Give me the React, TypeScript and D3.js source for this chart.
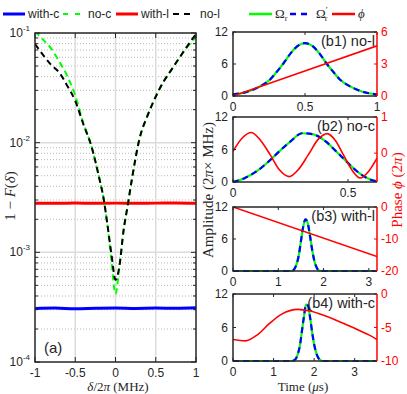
import React from "react";
import * as d3 from "d3";

const W = 407;
const H = 394;
const SANS = "'Liberation Sans', Arial, sans-serif";
const SERIF = "'Liberation Serif', 'Times New Roman', serif";
const INK = "#262626";

// ---- panel (a): infidelity vs detuning ----
const detuning = [-1, -0.9, -0.8, -0.7, -0.6, -0.5, -0.4, -0.3, -0.2, -0.15, -0.1, -0.05, 0, 0.05, 0.1, 0.15, 0.2, 0.3, 0.4, 0.5, 0.6, 0.7, 0.8, 0.9, 1];
const noL = [0.0794, 0.0631, 0.0513, 0.0437, 0.0331, 0.024, 0.0148, 0.00933, 0.00468, 0.00316, 0.00178, 0.000955, 0.000562, 0.000759, 0.00158, 0.00263, 0.00447, 0.011, 0.0178, 0.0263, 0.0363, 0.0468, 0.0603, 0.0776, 0.0977];
const noC = [0.104, 0.0871, 0.0724, 0.055, 0.0407, 0.0269, 0.0151, 0.00933, 0.00468, 0.00316, 0.00178, 0.000832, 0.000417, 0.000759, 0.00158, 0.00263, 0.00447, 0.011, 0.0178, 0.0263, 0.0363, 0.0468, 0.0603, 0.0759, 0.0912];
const flatDetuning = [-1, -0.75, -0.5, -0.25, 0, 0.25, 0.5, 0.75, 1];
const withL = [0.00281, 0.0028, 0.00282, 0.0028, 0.00281, 0.0028, 0.00281, 0.00282, 0.0028];
const withC = [0.000308, 0.00031, 0.000306, 0.000309, 0.000311, 0.000308, 0.00031, 0.000309, 0.000312];
const aXTicks = [-1, -0.5, 0, 0.5, 1];
const aYTicks = [1e-4, 1e-3, 1e-2, 1e-1];

// ---- panels (b1)-(b4): pulse amplitude and phase vs time ----
const b1Time = [0, 0.1, 0.2, 0.25, 0.3, 0.35, 0.4, 0.45, 0.5, 0.55, 0.6, 0.65, 0.7, 0.75, 0.8, 0.9, 1];
const b1Amp = [0.3, 0.8, 2.0, 2.9, 4.4, 6.1, 8.0, 9.4, 9.9, 9.4, 8.0, 6.1, 4.4, 2.9, 2.0, 0.8, 0.3];
const b1PhaseTime = [0, 1];
const b1Phase = [0, 4.7];

const b2Time = [0, 0.05, 0.1, 0.15, 0.2, 0.25, 0.3, 0.35, 0.4, 0.45, 0.5, 0.55, 0.6, 0.626];
const b2Amp = [0, 0.7, 1.9, 3.6, 5.6, 7.5, 9.0, 8.8, 7.6, 5.6, 3.5, 1.6, 0.4, 0.1];
const b2PhaseTime = [0, 0.04, 0.08, 0.12, 0.162, 0.2, 0.244, 0.285, 0.327, 0.37, 0.41, 0.445, 0.48, 0.515, 0.553, 0.59, 0.626];
const b2Phase = [0.05, 0.42, 0.57, 0.35, -0.05, -0.45, -0.65, -0.45, -0.05, 0.38, 0.54, 0.35, -0.05, -0.45, -0.69, -0.5, -0.14];

const b3Time = [0, 1.3, 1.35, 1.4, 1.45, 1.5, 1.55, 1.6, 1.65, 1.7, 1.75, 1.8, 1.85, 1.9, 2.0, 3.18];
const b3Amp = [0, 0, 0.3, 1.2, 2.8, 5.6, 8.3, 9.7, 9.0, 6.6, 3.9, 1.8, 0.6, 0.1, 0, 0];
const b3PhaseTime = [0, 3.18];
const b3Phase = [0, -15.5];

const b4Time = [0, 1.45, 1.5, 1.55, 1.6, 1.65, 1.7, 1.75, 1.8, 1.85, 1.9, 1.95, 2.0, 2.05, 2.1, 2.15, 2.2, 2.3, 3.55];
const b4Amp = [0, 0, 0.1, 0.4, 1.3, 2.8, 5.4, 8.0, 10.1, 9.9, 7.8, 5.2, 3.0, 1.5, 0.6, 0.2, 0, 0, 0];
const b4PhaseTime = [0, 0.3, 0.6, 0.9, 1.2, 1.6, 1.9, 2.2, 2.5, 2.8, 3.1, 3.35, 3.55];
const b4Phase = [-6.8, -7.0, -6.1, -4.4, -3.0, -2.3, -2.55, -3.1, -3.8, -4.6, -5.4, -6.1, -6.8];

const ampTicks = [0, 6, 12];

const panels = [
  { id: "b1", label: "(b1) no-l", top: 32, bottom: 96, tMax: 1, xTicks: [0, 0.5, 1], phDomain: [0, 6], phTicks: [0, 3, 6], t: b1Time, amp: b1Amp, pt: b1PhaseTime, ph: b1Phase },
  { id: "b2", label: "(b2) no-c", top: 117, bottom: 182, tMax: 0.626, xTicks: [0, 0.5], phDomain: [-0.8, 1], phTicks: [0, 1], t: b2Time, amp: b2Amp, pt: b2PhaseTime, ph: b2Phase },
  { id: "b3", label: "(b3) with-l", top: 207, bottom: 271, tMax: 3.18, xTicks: [0, 1, 2, 3], phDomain: [-20, 0], phTicks: [-20, -10, 0], t: b3Time, amp: b3Amp, pt: b3PhaseTime, ph: b3Phase },
  { id: "b4", label: "(b4) with-c", top: 294, bottom: 361, tMax: 3.55, xTicks: [0, 1, 2, 3], phDomain: [-10, 0], phTicks: [-10, -5, 0], t: b4Time, amp: b4Amp, pt: b4PhaseTime, ph: b4Phase },
];

const GREEN = "#00ff00";
const BLUE = "#0000ff";
const RED = "#ff0000";

const fmt = (v: number) => String(v).replace("−", "-");

function PanelA() {
  const x = d3.scaleLinear().domain([-1, 1]).range([35, 196]);
  const y = d3.scaleLog().domain([1e-4, 1e-1]).range([362, 33]);
  const line = (xs: number[], ys: number[]) =>
    d3
      .line<number>()
      .x((_, i) => x(xs[i]))
      .y(d => y(d))
      .curve(d3.curveMonotoneX)(ys) || "";
  const all = y.ticks();
  const isMajor = (v: number) => Math.abs(Math.log10(v) - Math.round(Math.log10(v))) < 1e-6;
  const minor = all.filter(v => !isMajor(v));
  const [x0, x1] = x.range();
  const [y0, y1] = y.range();

  return (
    <g>
      <clipPath id="clipA">
        <rect x={x0} y={y1} width={x1 - x0} height={y0 - y1} />
      </clipPath>
      {/* grid */}
      {minor.map((v, i) => (
        <line key={"mg" + i} x1={x0} x2={x1} y1={y(v)} y2={y(v)} stroke="#b8b8b8" strokeWidth={1} strokeDasharray="1,2" />
      ))}
      {aXTicks.slice(1, -1).map(v => (
        <line key={"gx" + v} x1={x(v)} x2={x(v)} y1={y1} y2={y0} stroke="#dcdcdc" strokeWidth={1.5} />
      ))}
      {aYTicks.slice(1, -1).map(v => (
        <line key={"gy" + v} x1={x0} x2={x1} y1={y(v)} y2={y(v)} stroke="#dcdcdc" strokeWidth={1.5} />
      ))}
      <g clipPath="url(#clipA)" fill="none">
        <path d={line(flatDetuning, withL)} stroke={RED} strokeWidth={3} />
        <path d={line(flatDetuning, withC)} stroke={BLUE} strokeWidth={3} />
        <path d={line(detuning, noC)} stroke={GREEN} strokeWidth={2} strokeDasharray="6,4" />
        <path d={line(detuning, noL)} stroke="#000" strokeWidth={2} strokeDasharray="6,4" />
      </g>
      {/* ticks */}
      {all.map((v, i) => {
        const len = isMajor(v) ? 5 : 3;
        return (
          <g key={"t" + i} stroke={INK} strokeWidth={1}>
            <line x1={x0} x2={x0 + len} y1={y(v)} y2={y(v)} />
            <line x1={x1} x2={x1 - len} y1={y(v)} y2={y(v)} />
          </g>
        );
      })}
      {aXTicks.map(v => (
        <g key={"xt" + v} stroke={INK} strokeWidth={1}>
          <line x1={x(v)} x2={x(v)} y1={y0} y2={y0 - 5} />
          <line x1={x(v)} x2={x(v)} y1={y1} y2={y1 + 5} />
        </g>
      ))}
      <rect x={x0} y={y1} width={x1 - x0} height={y0 - y1} fill="none" stroke={INK} strokeWidth={1.5} />
      {aXTicks.map(v => (
        <text key={"xl" + v} x={x(v)} y={y0 + 15} textAnchor="middle" fontFamily={SANS} fontSize={12} fill={INK}>
          {fmt(v)}
        </text>
      ))}
      {aYTicks.map(v => (
        <text key={"yl" + v} x={30} y={y(v) + 4} textAnchor="end" fontFamily={SANS} fontSize={12} fill={INK}>
          10
          <tspan fontSize={8} dy={-6}>
            {String(Math.round(Math.log10(v)))}
          </tspan>
        </text>
      ))}
      <text x={44} y={353} fontFamily={SANS} fontSize={15} fill={INK}>
        (a)
      </text>
      <text x={118} y={391} textAnchor="middle" fontFamily={SERIF} fontSize={13} fill={INK}>
        <tspan fontStyle="italic">δ</tspan>/2<tspan fontStyle="italic">π</tspan> (MHz)
      </text>
      <text transform="translate(15,196) rotate(-90)" textAnchor="middle" fontFamily={SERIF} fontSize={15} fill={INK}>
        1 − <tspan fontStyle="italic">F</tspan>(<tspan fontStyle="italic">δ</tspan>)
      </text>
    </g>
  );
}

function PulsePanel({ p }: { p: (typeof panels)[number] }) {
  const x = d3.scaleLinear().domain([0, p.tMax]).range([233, 377]);
  const yA = d3.scaleLinear().domain([0, 12]).range([p.bottom, p.top]);
  const yP = d3.scaleLinear().domain(p.phDomain).range([p.bottom, p.top]);
  const ampLine =
    d3
      .line<number>()
      .x((_, i) => x(p.t[i]))
      .y(d => yA(d))
      .curve(d3.curveMonotoneX)(p.amp) || "";
  const phLine =
    d3
      .line<number>()
      .x((_, i) => x(p.pt[i]))
      .y(d => yP(d))
      .curve(d3.curveMonotoneX)(p.ph) || "";
  const [x0, x1] = x.range();
  const cid = "clip" + p.id;
  return (
    <g>
      <clipPath id={cid}>
        <rect x={x0} y={p.top - 1} width={x1 - x0} height={p.bottom - p.top + 2} />
      </clipPath>
      <g clipPath={`url(#${cid})`} fill="none">
        <path d={ampLine} stroke={GREEN} strokeWidth={2.2} />
        <path d={ampLine} stroke={BLUE} strokeWidth={2.2} strokeDasharray="6,4" />
        <path d={phLine} stroke={RED} strokeWidth={1.6} />
      </g>
      {/* ticks */}
      {p.xTicks.map(v => (
        <g key={"xt" + v} stroke={INK} strokeWidth={1}>
          <line x1={x(v)} x2={x(v)} y1={p.bottom} y2={p.bottom - 3} />
          <line x1={x(v)} x2={x(v)} y1={p.top} y2={p.top + 3} />
        </g>
      ))}
      {ampTicks.map(v => (
        <line key={"yt" + v} x1={x0} x2={x0 + 3} y1={yA(v)} y2={yA(v)} stroke={INK} strokeWidth={1} />
      ))}
      {p.phTicks.map(v => (
        <line key={"pt" + v} x1={x1} x2={x1 - 3} y1={yP(v)} y2={yP(v)} stroke={RED} strokeWidth={1} />
      ))}
      <path d={`M${x1},${p.top}H${x0}V${p.bottom}H${x1}`} fill="none" stroke={INK} strokeWidth={1.5} />
      <line x1={x1} x2={x1} y1={p.top} y2={p.bottom} stroke={RED} strokeWidth={1.5} />
      {p.xTicks.map(v => (
        <text key={"xl" + v} x={x(v)} y={p.bottom + 15} textAnchor="middle" fontFamily={SANS} fontSize={12} fill={INK}>
          {fmt(v)}
        </text>
      ))}
      {ampTicks.map(v => (
        <text key={"yl" + v} x={228} y={yA(v) + 4} textAnchor="end" fontFamily={SANS} fontSize={12} fill={INK}>
          {v}
        </text>
      ))}
      {p.phTicks.map(v => (
        <text key={"pl" + v} x={381} y={yP(v) + 4} fontFamily={SANS} fontSize={12} fill={RED}>
          {fmt(v)}
        </text>
      ))}
      <text x={375} y={p.top + 14} textAnchor="end" fontFamily={SANS} fontSize={14.5} fill={INK}>
        {p.label}
      </text>
    </g>
  );
}

function Legend() {
  const yL = 14;
  return (
    <g fontFamily={SANS} fontSize={12} fill={INK}>
      <line x1={3} x2={25} y1={yL} y2={yL} stroke={BLUE} strokeWidth={3} />
      <text x={28} y={yL + 4}>with-c</text>
      <line x1={63} x2={82} y1={yL} y2={yL} stroke={GREEN} strokeWidth={2} strokeDasharray="5,7" />
      <text x={88} y={yL + 4}>no-c</text>
      <line x1={116} x2={138} y1={yL} y2={yL} stroke={RED} strokeWidth={3} />
      <text x={141} y={yL + 4}>with-l</text>
      <line x1={173} x2={193} y1={yL} y2={yL} stroke="#000" strokeWidth={2} strokeDasharray="6,5" />
      <text x={200} y={yL + 4}>no-l</text>
      <line x1={249} x2={272} y1={yL} y2={yL} stroke={GREEN} strokeWidth={2.5} />
      <text x={275} y={yL + 4} fontFamily={SERIF} fontSize={13}>
        Ω<tspan fontSize={8} dy={3}>r</tspan>
      </text>
      <line x1={290} x2={310} y1={yL} y2={yL} stroke={BLUE} strokeWidth={2.5} strokeDasharray="6,5" />
      <text x={316} y={yL + 4} fontFamily={SERIF} fontSize={13}>
        Ω<tspan fontSize={9} dy={-5}>′</tspan>
        <tspan fontSize={8} dx={-3} dy={8}>r</tspan>
      </text>
      <line x1={332} x2={355} y1={yL} y2={yL} stroke={RED} strokeWidth={2.5} />
      <text x={358} y={yL + 4} fontFamily={SERIF} fontSize={13} fontStyle="italic">
        ϕ
      </text>
    </g>
  );
}

export default function App() {
  return (
    <svg width={W} height={H} style={{ position: "absolute", left: 0, top: 0, background: "#fff" }}>
      <rect width={W} height={H} fill="#fff" />
      <Legend />
      <PanelA />
      {panels.map(p => (
        <PulsePanel key={p.id} p={p} />
      ))}
      <text x={303} y={391} textAnchor="middle" fontFamily={SERIF} fontSize={13} fill={INK}>
        Time (<tspan fontStyle="italic">μ</tspan>s)
      </text>
      <text transform="translate(213,190) rotate(-90)" textAnchor="middle" fontFamily={SERIF} fontSize={15} fill={INK}>
        Amplitude (2<tspan fontStyle="italic">π</tspan>× MHz)
      </text>
      <text transform="translate(402,190) rotate(-90)" textAnchor="middle" fontFamily={SERIF} fontSize={15} fill={RED}>
        Phase <tspan fontStyle="italic">ϕ</tspan> (2<tspan fontStyle="italic">π</tspan>)
      </text>
    </svg>
  );
}
